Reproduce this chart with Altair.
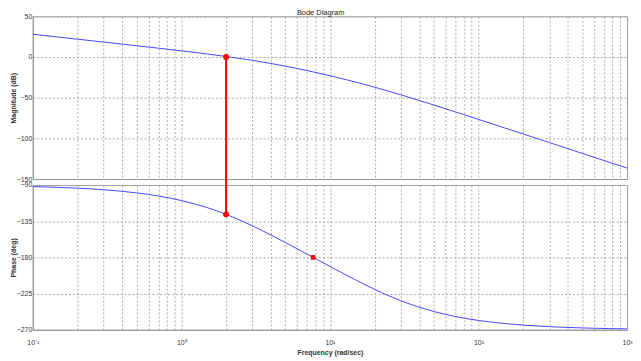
import altair as alt
import pandas as pd

# ---- data ----
freq = [0.1, 0.15, 0.2, 0.3, 0.5, 0.7, 1, 1.5, 2, 3, 4, 5, 7, 10, 15, 20, 30,
        50, 70, 100, 150, 200, 300, 500, 700, 1000]
mag_db = [27.95, 24.43, 21.92, 18.39, 13.89, 10.88, 7.60, 3.67, 0.65, -4.11,
          -7.94, -11.21, -16.61, -22.95, -30.93, -37.10, -46.44, -58.99,
          -67.51, -76.67, -87.17, -94.64, -105.19, -118.50, -127.26, -136.55]
phase_deg = [-91.98, -92.96, -93.94, -95.91, -99.81, -103.67, -109.32,
             -118.24, -126.45, -140.61, -152.05, -161.40, -175.81, -191.18,
             -208.29, -219.71, -233.81, -247.22, -253.49, -258.35, -262.19,
             -264.14, -266.09, -267.65, -268.32, -268.83]

gain_cross_w = [2.0]
gain_cross_mag = [0.0]
gain_cross_phase = [-126.5]
phase_cross_w = [7.7]
phase_cross_deg = [-180.0]

x_ticks = [0.1, 0.2, 0.3, 0.4, 0.5, 0.6, 0.7, 0.8, 0.9,
           1, 2, 3, 4, 5, 6, 7, 8, 9,
           10, 20, 30, 40, 50, 60, 70, 80, 90,
           100, 200, 300, 400, 500, 600, 700, 800, 900, 1000]
x_labels = [(0.1, "10⁻¹"), (1, "10⁰"), (10, "10¹"), (100, "10²"), (1000, "10³")]
mag_ticks = [-150, -100, -50, 0, 50]
phase_ticks = [-270, -225, -180, -135, -90]
mag_domain = [-150, 50]
phase_domain = [-270, -90]
x_domain = [0.1, 1000]

W = 599
H_TOP = 164
H_BOT = 146
GAP = 6

label_expr = " : ".join(f"datum.value == {v} ? '{t}'" for v, t in x_labels) + " : ''"

curve = pd.DataFrame({"w": freq, "mag": mag_db, "phase": phase_deg})
gc = pd.DataFrame({"w": gain_cross_w, "mag": gain_cross_mag, "phase": gain_cross_phase,
                   "mag_low": [mag_domain[0] - GAP * (mag_domain[1] - mag_domain[0]) / H_TOP],
                   "ph_top": [phase_domain[1]]})
pc = pd.DataFrame({"w": phase_cross_w, "phase": phase_cross_deg})

BLUE = "#4747ff"
RED = "#ff0000"

x_top = alt.X("w:Q", scale=alt.Scale(type="log", domain=x_domain, nice=False),
              axis=alt.Axis(values=x_ticks, tickCount=len(x_ticks), labels=False,
                            ticks=False, title=None, grid=True))
x_bot = alt.X("w:Q", scale=alt.Scale(type="log", domain=x_domain, nice=False),
              axis=alt.Axis(values=x_ticks, tickCount=len(x_ticks), labelExpr=label_expr,
                            ticks=False, title="Frequency  (rad/sec)", grid=True,
                            labelOverlap=False, labelFlush=False,
                            labelPadding=9, titlePadding=3))

y_mag = alt.Y("mag:Q", scale=alt.Scale(domain=mag_domain, nice=False),
              axis=alt.Axis(values=mag_ticks, tickCount=len(mag_ticks),
                            title="Magnitude (dB)", grid=True,
                            ticks=False, labelOverlap=False))
y_ph = alt.Y("phase:Q", scale=alt.Scale(domain=phase_domain, nice=False),
             axis=alt.Axis(values=phase_ticks, tickCount=len(phase_ticks),
                           title="Phase (deg)", grid=True,
                           ticks=False, labelOverlap=False))

top = alt.layer(
    alt.Chart(curve).mark_line(color=BLUE, strokeWidth=1, interpolate="monotone")
    .encode(x=x_top, y=y_mag),
    alt.Chart(gc).mark_rule(color=RED, strokeWidth=2, clip=False)
    .encode(x="w:Q", y="mag:Q", y2="mag_low:Q"),
    alt.Chart(gc).mark_point(color=RED, filled=True, opacity=1, size=36, shape="circle")
    .encode(x="w:Q", y="mag:Q"),
).properties(width=W, height=H_TOP)

bottom = alt.layer(
    alt.Chart(curve).mark_line(color=BLUE, strokeWidth=1, interpolate="monotone")
    .encode(x=x_bot, y=y_ph),
    alt.Chart(gc).mark_rule(color=RED, strokeWidth=2)
    .encode(x="w:Q", y="phase:Q", y2="ph_top:Q"),
    alt.Chart(gc).mark_point(color=RED, filled=True, opacity=1, size=36, shape="circle")
    .encode(x="w:Q", y="phase:Q"),
    alt.Chart(pc).mark_point(color=RED, filled=True, opacity=1, size=22, shape="square")
    .encode(x="w:Q", y="phase:Q"),
).properties(width=W, height=H_BOT)

chart = alt.vconcat(top, bottom, spacing=GAP).properties(
    title=alt.TitleParams("Bode Diagram", fontSize=7.5, font="Liberation Sans",
                          fontWeight="normal", color="#222", offset=-5,
                          anchor="middle"),
    padding=0,
    bounds="flush",
).configure_view(
    stroke="#999", strokeWidth=1
).configure_axis(
    labelFont="Liberation Sans", labelFontSize=7, labelColor="#333",
    titleFont="Liberation Sans", titleFontSize=7, titleColor="#333",
    titleFontWeight="bold", labelPadding=1, titlePadding=0,
    gridColor="#aaa", gridDash=[2, 2], gridWidth=1, gridOpacity=1,
    domainColor="#999", domainWidth=1,
).configure_concat(spacing=GAP)

chart.save("out.html", embed_options={"renderer": "svg", "actions": False})
